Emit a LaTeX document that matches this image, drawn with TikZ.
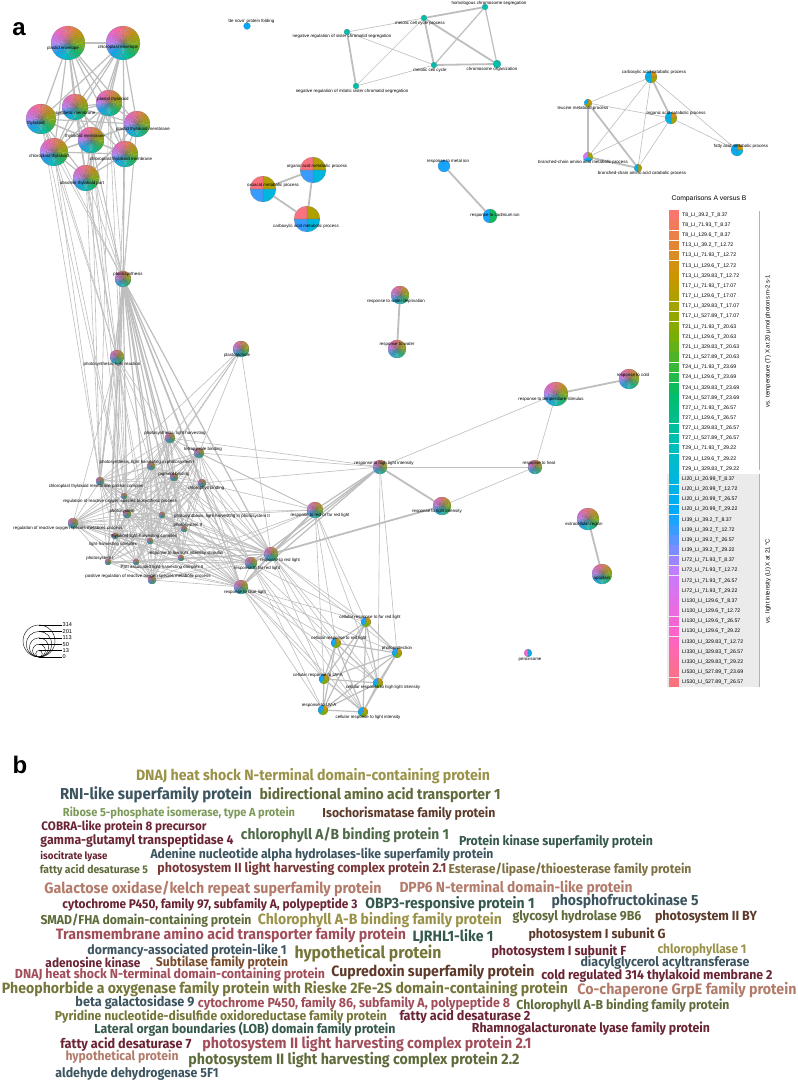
\documentclass[tikz,border=0pt]{standalone}
\usepackage{fontspec}
\usepackage{graphicx}
\setsansfont{Liberation Sans}
\newfontfamily\cloudfont{Fira Sans}
\usetikzlibrary{positioning}

\pgfdeclarelayer{bg}
\pgfdeclarelayer{edges}
\pgfsetlayers{bg,edges,main}

% hue anchors of the comparison palette
\definecolor{hue0}{HTML}{F8766D}
\definecolor{hue1}{HTML}{CD9600}
\definecolor{hue2}{HTML}{7CAE00}
\definecolor{hue3}{HTML}{00BE67}
\definecolor{hue4}{HTML}{00BFC4}
\definecolor{hue5}{HTML}{00A9FF}
\definecolor{hue6}{HTML}{C77CFF}
\definecolor{hue7}{HTML}{FF61CC}
\definecolor{hue8}{HTML}{F8766D}
\definecolor{edgegray}{HTML}{BEBEBE}
% word cloud colours
\definecolor{cloudolive}{HTML}{9A9248}
\definecolor{cloudslate}{HTML}{3D5560}
\definecolor{cloudteal}{HTML}{35594A}
\definecolor{cloudmoss}{HTML}{5E6B3A}
\definecolor{cloudgreen}{HTML}{7C9A5A}
\definecolor{cloudforest}{HTML}{4E6A48}
\definecolor{cloudbrown}{HTML}{5E3A2A}
\definecolor{cloudbrowntwo}{HTML}{7A4A2A}
\definecolor{cloudmaroon}{HTML}{6A2434}
\definecolor{cloudrust}{HTML}{7A3838}
\definecolor{cloudkhaki}{HTML}{7E7040}
\definecolor{cloudrose}{HTML}{B37B6A}
\definecolor{cloudred}{HTML}{A24E5A}
\definecolor{cloudhypo}{HTML}{76763A}

\tikzset{
  gonode/.style={circle, inner sep=0pt},
  golabel/.style={font=\sffamily\fontsize{4.4}{5}\selectfont, inner sep=0pt},
  goedge/.style={draw=edgegray, line width=0.6pt},
  midedge/.style={draw=edgegray, line width=1.2pt},
  boldedge/.style={draw=edgegray, line width=1.8pt},
  legtext/.style={font=\sffamily\fontsize{5.2}{6}\selectfont, inner sep=0pt},
  sizetext/.style={font=\sffamily\fontsize{5.6}{6}\selectfont, inner sep=0.5pt, anchor=west},
  cloudword/.style={font=\cloudfont\bfseries, inner sep=0pt},
  panel/.style={font=\sffamily\bfseries\fontsize{24}{26}\selectfont, inner sep=0pt, anchor=base},
}

\def\allslices{0,...,46}

% pie of equal slices, one per comparison index
\newcommand\pieslices[3]{%
  \edef\slicelist{#3}%
  \foreach \s [count=\n] in \slicelist {\xdef\slicecount{\n}}%
  \pgfmathsetmacro\angstep{360/\slicecount}%
  \foreach \s [count=\n] in \slicelist {%
    \pgfmathsetmacro\angA{90-(\n-1)*\angstep}%
    \pgfmathsetmacro\angB{90-\n*\angstep}%
    \pgfmathsetmacro\hpos{\s*8/47}%
    \pgfmathtruncatemacro\hlo{floor(\hpos)}%
    \pgfmathtruncatemacro\hhi{\hlo+1}%
    \pgfmathtruncatemacro\hmix{round(100-100*(\hpos-\hlo))}%
    \fill[fill=hue\hlo!\hmix!hue\hhi, draw=black!55, line width=0.04pt]
      (#1.center) -- ++(\angA:#2pt) arc[start angle=\angA, end angle=\angB, radius=#2pt] -- cycle;
  }%
}
% name, position, radius, slices, label, label position
\newcommand\gonode[6]{%
  \node[gonode, minimum size=#3*2pt] (#1) at #2 {};
  \pieslices{#1}{#3}{#4}
  \node[golabel] (#1-l) at #6 {#5};
}
% all pairs of a list
\newcommand\clique[2]{%
  \foreach \a [count=\i] in {#2}{%
    \foreach \b [count=\j] in {#2}{%
      \ifnum\j>\i \draw[#1] (\a) -- (\b);\fi
    }%
  }%
}
\newcommand\cw[2]{\resizebox{#1pt}{!}{\scalebox{1}[1.06]{#2}}}

\begin{document}
\begin{tikzpicture}[x=1pt, y=-1pt]
\begin{pgfonlayer}{bg}
\fill[white] (0,0) rectangle (798,1082);
\end{pgfonlayer}
\useasboundingbox (0,0) rectangle (798,1082);

\node[panel] (panela) at (19,35) {a};
\node[panel] (panelb) at (20,773) {b};

% thylakoid / envelope cluster
\gonode{plenv}{(68,43)}{17}{\allslices}{plastid envelope}{(63,48)}
\gonode{chenv}{(123,43)}{17}{\allslices}{chloroplast envelope}{(118,47)}
\gonode{plthy}{(109,103)}{13}{\allslices}{plastid thylakoid}{(113,99)}
\gonode{psmem}{(75,107)}{13}{\allslices}{photosynthetic membrane}{(70,113)}
\gonode{thy}{(41,119)}{15}{\allslices}{thylakoid}{(36,123)}
\gonode{plthym}{(137,124)}{13}{\allslices}{plastid thylakoid membrane}{(143,129)}
\gonode{thym}{(91,140)}{13}{\allslices}{thylakoid membrane}{(85,136)}
\gonode{chthy}{(54,152)}{14}{\allslices}{chloroplast thylakoid}{(49,156)}
\gonode{chthym}{(125,154)}{13}{\allslices}{chloroplast thylakoid membrane}{(121,159)}
\gonode{obthy}{(86,178)}{13}{\allslices}{obsolete thylakoid part}{(82,183)}
\gonode{photo}{(123,279)}{8}{\allslices}{photosynthesis}{(128,274)}
\gonode{lightreac}{(117,357)}{7}{\allslices}{photosynthesis, light reaction}{(112,364)}
\gonode{plglob}{(241,349)}{8}{\allslices}{plastoglobule}{(237,355)}

% meiosis
\gonode{denovo}{(247,26)}{3.5}{29}{'de novo' protein folding}{(251,21)}
\gonode{homseg}{(485,7)}{3}{22}{homologous chromosome segregation}{(489,3)}
\gonode{mcp}{(424,18)}{3}{22}{meiotic cell cycle process}{(420,23)}
\gonode{nrsis}{(347,32)}{3}{22}{negative regulation of sister chromatid segregation}{(342,36)}
\gonode{mcc}{(434,65)}{3}{22}{meiotic cell cycle}{(430,70)}
\gonode{chrorg}{(497,64)}{4}{22}{chromosome organization}{(492,69)}
\gonode{nrmit}{(356,86)}{3}{22}{negative regulation of mitotic sister chromatid segregation}{(352,91)}

% acid metabolism
\gonode{orgacid}{(313,170)}{13}{8,26,31,46}{organic acid metabolic process}{(317,166)}
\gonode{oxo}{(263,189)}{13}{8,26,31,46}{oxoacid metabolic process}{(273,185)}
\gonode{carbox}{(307,219)}{13}{8,26,31,46}{carboxylic acid metabolic process}{(306,226)}
\gonode{metal}{(444,166)}{6}{30}{response to metal ion}{(448,161)}
\gonode{cadm}{(490,216)}{7}{17,30}{response to cadmium ion}{(495,215)}
\gonode{carbcat}{(651,77)}{6}{5,9,27,28}{carboxylic acid catabolic process}{(654,72)}
\gonode{leuc}{(588,103)}{4}{6,9,28}{leucine metabolic process}{(583,108)}
\gonode{orgcat}{(671,118)}{6}{5,9,27,28}{organic acid catabolic process}{(676,113)}
\gonode{fatty}{(737,150)}{6}{6,27,28,29}{fatty acid metabolic process}{(741,146)}
\gonode{bcmet}{(588,157)}{5}{9,28,36}{branched-chain amino acid metabolic process}{(583,162)}
\gonode{bccat}{(638,168)}{4}{9,28}{branched-chain amino acid catabolic process}{(642,173)}

% water
\gonode{wdep}{(400,295)}{9}{\allslices}{response to water deprivation}{(396,301)}
\gonode{water}{(397,349)}{9}{\allslices}{response to water}{(397,345)}

% light harvesting cluster
\gonode{plh}{(170,438)}{5}{\allslices}{photosynthesis, light harvesting}{(175,433)}
\gonode{tetra}{(199,453)}{5}{\allslices}{tetrapyrrole binding}{(203,449)}
\gonode{plhI}{(151,466)}{4}{\allslices}{photosynthesis, light harvesting in photosystem I}{(147,462)}
\gonode{pigm}{(174,477)}{4}{\allslices}{pigment binding}{(174,474)}
\gonode{ctmpc}{(100,481)}{4}{\allslices}{chloroplast thylakoid membrane protein complex}{(96,486)}
\gonode{chlb}{(202,483)}{4}{\allslices}{chlorophyll binding}{(206,488)}
\gonode{rrosb}{(124,496)}{3}{\allslices}{regulation of reactive oxygen species biosynthetic process}{(120,501)}
\gonode{psys}{(127,514)}{4}{\allslices}{photosystem}{(122,511)}
\gonode{plhII}{(162,515)}{3}{\allslices}{photosynthesis, light harvesting in photosystem II}{(222,516)}
\gonode{rrosm}{(73,523)}{5}{\allslices}{regulation of reactive oxygen species metabolic process}{(68,528)}
\gonode{psII}{(184,529)}{3}{\allslices}{photosystem II}{(188,525)}
\gonode{tlhc}{(115,536)}{3}{\allslices}{thylakoid light-harvesting complex}{(144,536)}
\gonode{lhc}{(150,541)}{3}{\allslices}{light-harvesting complex}{(113,544)}
\gonode{lowli}{(181,558)}{3}{\allslices}{response to low light intensity stimulus}{(186,553)}
\gonode{psI}{(108,562)}{3}{\allslices}{photosystem I}{(100,558)}
\gonode{psIIlhc}{(136,562)}{3}{\allslices}{PSII associated light-harvesting complex II}{(162,567)}
\gonode{prrosm}{(152,580)}{4}{\allslices}{positive regulation of reactive oxygen species metabolic process}{(148,576)}
\gonode{rfrl}{(315,510)}{8}{\allslices}{response to red or far red light}{(320,515)}
\gonode{farred}{(251,563)}{6}{\allslices}{response to far red light}{(257,568)}
\gonode{redl}{(271,554)}{7}{\allslices}{response to red light}{(280,560)}
\gonode{bluel}{(241,587)}{7}{\allslices}{response to blue light}{(245,592)}

% stimulus responses
\gonode{temp}{(556,394)}{12}{\allslices}{response to temperature stimulus}{(551,399)}
\gonode{cold}{(629,379)}{10}{\allslices}{response to cold}{(633,375)}
\gonode{highli}{(380,467)}{7}{\allslices}{response to high light intensity}{(384,463)}
\gonode{heat}{(535,467)}{7}{\allslices}{response to heat}{(539,463)}
\gonode{lint}{(442,506)}{9}{\allslices}{response to light intensity}{(437,511)}
\gonode{extra}{(588,519)}{11}{\allslices}{extracellular region}{(584,524)}
\gonode{apo}{(602,574)}{10}{\allslices}{apoplast}{(602,578)}
\gonode{perox}{(528,653)}{4}{28,40}{peroxisome}{(530,659)}

% cellular light responses
\gonode{crfr}{(366,622)}{5}{6,9,12,28,30}{cellular response to far red light}{(370,617)}
\gonode{crred}{(336,643)}{5}{6,9,12,28,30}{cellular response to red light}{(339,638)}
\gonode{pprot}{(397,653)}{5}{6,9,12,28,30}{photoprotection}{(397,648)}
\gonode{cruva}{(324,679)}{5}{6,9,12,28,30}{cellular response to UV-A}{(318,675)}
\gonode{crhli}{(378,683)}{5}{6,9,12,28,30}{cellular response to high light intensity}{(383,687)}
\gonode{ruva}{(323,710)}{5}{6,9,12,28,30}{response to UV-A}{(319,705)}
\gonode{crli}{(363,712)}{5}{6,9,12,28,30}{cellular response to light intensity}{(368,717)}

% connectors
\begin{pgfonlayer}{edges}
\clique{midedge}{plenv,chenv,plthy,psmem,thy,plthym,thym,chthy,chthym,obthy}
\draw[boldedge] (plenv) -- (chenv);
\foreach \t in {plenv,chenv,plthy,psmem,thy,plthym,thym,chthy,chthym,obthy}
  \draw[goedge] (\t) -- (photo);
\foreach \t in {thy,chthy,obthy,thym,psmem,chthym,plthym}
  \draw[goedge] (\t) -- (lightreac);
\foreach \t in {thy,chthy,obthy,thym,plthy}{
  \draw[goedge] (\t) -- (psys);
  \draw[goedge] (\t) -- (ctmpc);
}
\foreach \t in {plh,tetra,plhI,pigm,ctmpc,chlb,psys,plhII,psII,tlhc,lhc,psI,lowli,redl,bluel,lightreac}
  \draw[midedge] (photo) -- (\t);
\foreach \t in {ctmpc,rrosm,psys,plhI,plh,psI,tlhc,lhc,prrosm,pigm}
  \draw[goedge] (lightreac) -- (\t);
\foreach \t in {plh,ctmpc,psys,tlhc,redl,tetra}
  \draw[goedge] (plglob) -- (\t);
\clique{goedge}{plh,tetra,plhI,pigm,ctmpc,chlb,rrosb,psys,plhII,rrosm,psII,tlhc,lhc,lowli,psI,psIIlhc,prrosm,redl,farred,bluel}
\foreach \t in {plh,chlb,tetra}
  \draw[goedge] (\t) -- (highli);
\foreach \t in {plh,tetra,chlb,rrosm,psys,prrosm,lowli}
  \draw[goedge] (\t) -- (rfrl);
\draw[boldedge] (redl) -- (rfrl);
\draw[boldedge] (redl) -- (bluel);
\draw[midedge] (redl) -- (farred);
\foreach \t in {rfrl,redl,farred,bluel}
  \draw[midedge] (\t) -- (highli);
\draw[boldedge] (redl) -- (lint);
\draw[boldedge] (highli) -- (lint);
\draw[goedge] (highli) -- (temp);
\draw[goedge] (highli) -- (heat);
\draw[goedge] (temp) -- (heat);
\draw[goedge] (lint) -- (heat);
\draw[boldedge] (temp) -- (cold);
\draw[boldedge] (extra) -- (apo);
% metabolism and meiosis
\draw[boldedge] (oxo) -- (orgacid);
\draw[boldedge] (orgacid) -- (carbox);
\draw[boldedge] (oxo) -- (carbox);
\draw[boldedge] (metal) -- (cadm);
\draw[boldedge] (water) -- (wdep);
\foreach \a/\b in {homseg/mcp, mcp/mcc, mcp/chrorg, mcc/chrorg, nrsis/nrmit}
  \draw[boldedge] (\a) -- (\b);
\foreach \a/\b in {homseg/mcc, homseg/chrorg}
  \draw[midedge] (\a) -- (\b);
\foreach \a/\b in {mcp/nrsis, mcp/nrmit, nrsis/mcc, nrmit/mcc}
  \draw[goedge] (\a) -- (\b);
\foreach \a/\b in {carbcat/orgcat, leuc/bcmet, leuc/bccat, bcmet/bccat}
  \draw[boldedge] (\a) -- (\b);
\foreach \a/\b in {carbcat/leuc, carbcat/fatty, carbcat/bcmet, carbcat/bccat, leuc/orgcat, orgcat/fatty, orgcat/bcmet, orgcat/bccat}
  \draw[goedge] (\a) -- (\b);
% lower cluster
\clique{midedge}{crfr,crred,pprot,cruva,crhli,ruva,crli}
\foreach \t in {crred,cruva,crhli,crfr}
  \draw[goedge] (rfrl) -- (\t);
\foreach \t in {crhli,pprot}
  \draw[goedge] (highli) -- (\t);
\foreach \t in {crfr,crred,pprot,cruva,crhli,ruva,crli}
  \draw[goedge] (bluel) -- (\t);
\foreach \t in {crfr,crred,pprot,crhli,crli,cruva}
  \draw[goedge] (redl) -- (\t);
\foreach \t in {crfr,crred,cruva,ruva,crli}
  \draw[goedge] (farred) -- (\t);
\end{pgfonlayer}

% size legend
\foreach \v/\r/\k in {314/16/1, 201/12.8/2, 113/9.6/3, 50/6.4/4, 13/3.3/5}{
  \draw[line width=0.4pt] (39,{657-\r}) circle[radius=\r];
  \draw[line width=0.4pt] (39,{657-2*\r}) -- (62,{657-2*\r});
  \node[sizetext] (size\k) at (62,{657-2*\r}) {\v};
}
\draw[line width=0.4pt] (39,657) -- (62,657);
\node[sizetext] (size6) at (62,657) {0};

% comparison legend
\node[font=\sffamily\fontsize{6.8}{8}\selectfont, inner sep=0pt] (legtitle) at (709,199) {Comparisons A versus B};
\fill[black!8] (667,474) rectangle (759,687);
\draw[black!30, line width=0.5pt] (759,211) -- (759,470);
\draw[black!30, line width=0.5pt] (759,474) -- (759,687);
\foreach \lab [count=\i from 0] in {T8\_LI\_39.2\_T\_8.37, T8\_LI\_71.93\_T\_8.37, T8\_LI\_129.6\_T\_8.37, T13\_LI\_39.2\_T\_12.72, T13\_LI\_71.93\_T\_12.72, T13\_LI\_129.6\_T\_12.72, T13\_LI\_329.83\_T\_12.72, T17\_LI\_71.93\_T\_17.07, T17\_LI\_129.6\_T\_17.07, T17\_LI\_329.83\_T\_17.07, T17\_LI\_527.89\_T\_17.07, T21\_LI\_71.93\_T\_20.63, T21\_LI\_129.6\_T\_20.63, T21\_LI\_329.83\_T\_20.63, T21\_LI\_527.89\_T\_20.63, T24\_LI\_71.93\_T\_23.69, T24\_LI\_129.6\_T\_23.69, T24\_LI\_329.83\_T\_23.69, T24\_LI\_527.89\_T\_23.69, T27\_LI\_71.93\_T\_26.57, T27\_LI\_129.6\_T\_26.57, T27\_LI\_329.83\_T\_26.57, T27\_LI\_527.89\_T\_26.57, T29\_LI\_71.93\_T\_29.22, T29\_LI\_129.6\_T\_29.22, T29\_LI\_329.83\_T\_29.22, LI20\_LI\_20.99\_T\_8.37, LI20\_LI\_20.99\_T\_12.72, LI20\_LI\_20.99\_T\_26.57, LI20\_LI\_20.99\_T\_29.22, LI39\_LI\_39.2\_T\_8.37, LI39\_LI\_39.2\_T\_12.72, LI39\_LI\_39.2\_T\_26.57, LI39\_LI\_39.2\_T\_29.22, LI72\_LI\_71.93\_T\_8.37, LI72\_LI\_71.93\_T\_12.72, LI72\_LI\_71.93\_T\_26.57, LI72\_LI\_71.93\_T\_29.22, LI130\_LI\_129.6\_T\_8.37, LI130\_LI\_129.6\_T\_12.72, LI130\_LI\_129.6\_T\_26.57, LI130\_LI\_129.6\_T\_29.22, LI330\_LI\_329.83\_T\_12.72, LI330\_LI\_329.83\_T\_26.57, LI330\_LI\_329.83\_T\_29.22, LI530\_LI\_527.89\_T\_23.69, LI530\_LI\_527.89\_T\_26.57}{
  \pgfmathsetmacro\ly{215+\i*10.16}
  \pgfmathsetmacro\hpos{\i*8/47}
  \pgfmathtruncatemacro\hlo{floor(\hpos)}
  \pgfmathtruncatemacro\hhi{\hlo+1}
  \pgfmathtruncatemacro\hmix{round(100-100*(\hpos-\hlo))}
  \fill[fill=hue\hlo!\hmix!hue\hhi] (669,{\ly-4.8}) rectangle (679,{\ly+4.8});
  \node[legtext, anchor=west] (leg\i) at (682,\ly) {\lab};
}
\node[legtext, font=\sffamily\fontsize{6}{7}\selectfont, rotate=90] (tstrip) at (768,341) {vs. temperature (T) X at 20 µmol photons m-2 s-1};
\node[legtext, font=\sffamily\fontsize{6}{7}\selectfont, rotate=90] (listrip) at (768,581) {vs. light intensity (LI) X at 21 °C};

% word cloud
\node[cloudword, text=cloudolive] (w01) at (313,776) {\cw{354}{DNAJ heat shock N-terminal domain-containing protein}};
\node[cloudword, text=cloudslate] (w02) at (156,795) {\cw{192}{RNI-like superfamily protein}};
\node[cloudword, text=cloudmoss] (w03) at (380,795) {\cw{241}{bidirectional amino acid transporter 1}};
\node[cloudword, text=cloudgreen] (w04) at (179,813) {\cw{232}{Ribose 5-phosphate isomerase, type A protein}};
\node[cloudword, text=cloudbrown] (w05) at (409,814) {\cw{173}{Isochorismatase family protein}};
\node[cloudword, text=cloudmaroon] (w06) at (124,827) {\cw{165}{COBRA-like protein 8 precursor}};
\node[cloudword, text=cloudforest] (w07) at (345,835) {\cw{208}{chlorophyll A/B binding protein 1}};
\node[cloudword, text=cloudmaroon] (w08) at (137,841) {\cw{193}{gamma-glutamyl transpeptidase 4}};
\node[cloudword, text=cloudteal] (w09) at (556,842) {\cw{194}{Protein kinase superfamily protein}};
\node[cloudword, text=cloudmaroon] (w10) at (74,856) {\cw{67}{isocitrate lyase}};
\node[cloudword, text=cloudslate] (w11) at (322,855) {\cw{343}{Adenine nucleotide alpha hydrolases-like superfamily protein}};
\node[cloudword, text=cloudmoss] (w12) at (94,870) {\cw{108}{fatty acid desaturase 5}};
\node[cloudword, text=cloudrust] (w13) at (302,869) {\cw{289}{photosystem II light harvesting complex protein 2.1}};
\node[cloudword, text=cloudkhaki] (w14) at (570,870) {\cw{243}{Esterase/lipase/thioesterase family protein}};
\node[cloudword, text=cloudrose] (w15) at (213,889) {\cw{337}{Galactose oxidase/kelch repeat superfamily protein}};
\node[cloudword, text=cloudrose] (w16) at (516,888) {\cw{233}{DPP6 N-terminal domain-like protein}};
\node[cloudword, text=cloudmaroon] (w17) at (210,905) {\cw{295}{cytochrome P450, family 97, subfamily A, polypeptide 3}};
\node[cloudword, text=cloudteal] (w18) at (450,904) {\cw{169}{OBP3-responsive protein 1}};
\node[cloudword, text=cloudslate] (w19) at (625,901) {\cw{147}{phosphofructokinase 5}};
\node[cloudword, text=cloudmoss] (w20) at (146,921) {\cw{211}{SMAD/FHA domain-containing protein}};
\node[cloudword, text=cloudolive] (w21) at (380,920) {\cw{244}{Chlorophyll A-B binding family protein}};
\node[cloudword, text=cloudmoss] (w22) at (577,917) {\cw{129}{glycosyl hydrolase 9B6}};
\node[cloudword, text=cloudbrown] (w23) at (706,917) {\cw{102}{photosystem II BY}};
\node[cloudword, text=cloudred] (w24) at (231,935) {\cw{350}{Transmembrane amino acid transporter family protein}};
\node[cloudword, text=cloudteal] (w25) at (453,937) {\cw{81}{LJRHL1-like 1}};
\node[cloudword, text=cloudbrown] (w26) at (597,935) {\cw{137}{photosystem I subunit G}};
\node[cloudword, text=cloudslate] (w27) at (187,950.5) {\cw{199}{dormancy-associated protein-like 1}};
\node[cloudword, text=cloudhypo] (w28) at (368,954) {\cw{147}{hypothetical protein}};
\node[cloudword, text=cloudmaroon] (w29) at (559,952) {\cw{135}{photosystem I subunit F}};
\node[cloudword, text=cloudolive] (w30) at (702,950) {\cw{89}{chlorophyllase 1}};
\node[cloudword, text=cloudmaroon] (w31) at (93,962) {\cw{95}{adenosine kinase}};
\node[cloudword, text=cloudbrowntwo] (w32) at (222,963) {\cw{132}{Subtilase family protein}};
\node[cloudword, text=cloudslate] (w33) at (665,963) {\cw{169}{diacylglycerol acyltransferase}};
\node[cloudword, text=cloudred] (w34) at (170,975) {\cw{310}{DNAJ heat shock N-terminal domain-containing protein}};
\node[cloudword, text=cloudbrown] (w35) at (433,972) {\cw{203}{Cupredoxin superfamily protein}};
\node[cloudword, text=cloudmaroon] (w36) at (657,976) {\cw{231}{cold regulated 314 thylakoid membrane 2}};
\node[cloudword, text=cloudhypo] (w37) at (285,989) {\cw{566}{Pheophorbide a oxygenase family protein with Rieske 2Fe-2S domain-containing protein}};
\node[cloudword, text=cloudrose] (w38) at (687,990) {\cw{219}{Co-chaperone GrpE family protein}};
\node[cloudword, text=cloudslate] (w39) at (135,1003) {\cw{119}{beta galactosidase 9}};
\node[cloudword, text=cloudred] (w40) at (354,1004) {\cw{312}{cytochrome P450, family 86, subfamily A, polypeptide 8}};
\node[cloudword, text=cloudmoss] (w41) at (623,1006) {\cw{213}{Chlorophyll A-B binding family protein}};
\node[cloudword, text=cloudhypo] (w42) at (221,1017) {\cw{332}{Pyridine nucleotide-disulfide oxidoreductase family protein}};
\node[cloudword, text=cloudmaroon] (w43) at (465,1017) {\cw{131}{fatty acid desaturase 2}};
\node[cloudword, text=cloudteal] (w44) at (245,1029) {\cw{301}{Lateral organ boundaries (LOB) domain family protein}};
\node[cloudword, text=cloudmaroon] (w45) at (591,1029) {\cw{238}{Rhamnogalacturonate lyase family protein}};
\node[cloudword, text=cloudmaroon] (w46) at (126,1045) {\cw{131}{fatty acid desaturase 7}};
\node[cloudword, text=cloudred] (w47) at (367,1044) {\cw{329}{photosystem II light harvesting complex protein 2.1}};
\node[cloudword, text=cloudrose] (w48) at (122,1057) {\cw{113}{hypothetical protein}};
\node[cloudword, text=cloudmoss] (w49) at (354,1060) {\cw{331}{photosystem II light harvesting complex protein 2.2}};
\node[cloudword, text=cloudslate] (w50) at (137,1074) {\cw{163}{aldehyde dehydrogenase 5F1}};
\end{tikzpicture}
\end{document}
